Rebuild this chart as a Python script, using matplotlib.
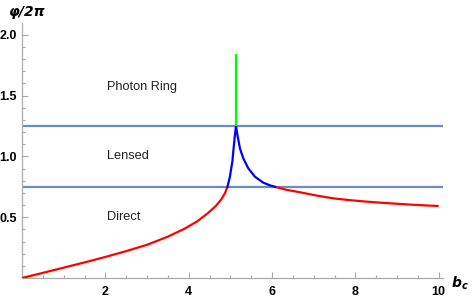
import matplotlib
matplotlib.use("Agg")
import matplotlib.pyplot as plt
from matplotlib.ticker import MultipleLocator, FixedLocator

# ---- data ----
direct_b = [0.0, 0.5, 1.0, 1.5, 2.0, 2.5, 3.0, 3.5, 3.9, 4.2, 4.45, 4.65, 4.78, 4.87, 4.93]
direct_n = [0.0, 0.042, 0.085, 0.128, 0.173, 0.221, 0.273, 0.340, 0.405, 0.465, 0.530, 0.592, 0.645, 0.697, 0.75]

lensed_b = [4.93, 4.99, 5.02, 5.05, 5.07, 5.11, 5.125, 5.135, 5.15, 5.17, 5.23, 5.31, 5.43, 5.59, 5.79, 5.95, 6.07]
lensed_n = [0.75, 0.833, 0.90, 0.96, 1.04, 1.176, 1.22, 1.25, 1.22, 1.176, 1.066, 0.984, 0.902, 0.833, 0.784, 0.762, 0.75]

far_b = [6.07, 6.35, 6.67, 7.07, 7.47, 7.87, 8.27, 8.67, 9.07, 9.5, 10.0]
far_n = [0.75, 0.725, 0.705, 0.678, 0.655, 0.640, 0.628, 0.618, 0.609, 0.600, 0.592]

ring_b = [5.135, 5.135]
ring_n = [1.25, 1.84]

boundaries = [0.75, 1.25]
region_labels = ["Direct", "Lensed", "Photon Ring"]
region_label_pos = [(2.45, 0.5), (2.55, 1.0), (2.87, 1.57)]

x_major = [2, 4, 6, 8, 10]
y_major = [0.5, 1.0, 1.5, 2.0]

W, H = 473, 297
fig = plt.figure(figsize=(W / 100, H / 100), dpi=100)
x0, x1 = 22, 443
y0, y1 = 278, 22.7
ax = fig.add_axes([x0 / W, 1 - y0 / H, (x1 - x0) / W, (y0 - y1) / H])
ax.set_xlim(0, (x1 - x0) / 41.67)
ax.set_ylim(0, (y0 - y1) / 121.6)

for yb in boundaries:
    ax.axhline(yb, color="#6C8EBF", lw=1.6, zorder=2)

ax.plot(direct_b, direct_n, color="#FF0000", lw=1.6, zorder=3, solid_capstyle="butt")
ax.plot(far_b, far_n, color="#FF0000", lw=1.6, zorder=3, solid_capstyle="butt")
ax.plot(lensed_b, lensed_n, color="#0000FF", lw=1.6, zorder=4, solid_joinstyle="round")
ax.plot(ring_b, ring_n, color="#00FF00", lw=1.6, zorder=4, solid_capstyle="butt")

for txt, (bx, by) in zip(region_labels, region_label_pos):
    ax.text(bx, by, txt, ha="center", va="center", fontsize=9.2,
            family="Liberation Sans", color="#222222")

for s in ["top", "right"]:
    ax.spines[s].set_visible(False)
for s in ["left", "bottom"]:
    ax.spines[s].set_color("#AAAAAA")
    ax.spines[s].set_linewidth(0.9)

ax.xaxis.set_major_locator(FixedLocator(x_major))
ax.yaxis.set_major_locator(FixedLocator(y_major))
ax.xaxis.set_minor_locator(MultipleLocator(0.5))
ax.yaxis.set_minor_locator(MultipleLocator(0.1))
ax.tick_params(which="both", direction="in", color="#AAAAAA", width=0.8)
ax.tick_params(which="major", length=4.5)
ax.tick_params(which="minor", length=2.5)
ax.tick_params(axis="x", which="major", pad=6)
ax.tick_params(axis="y", which="major", pad=3.5)
ax.set_xticklabels([str(v) for v in x_major], fontweight="bold", fontsize=9,
                   family="Liberation Sans")
ax.set_yticklabels([f"{v:.1f}" for v in y_major], fontweight="bold", fontsize=9,
                   family="Liberation Sans")

fig.text(27 / W, 1 - 12 / H, "φ/2π", ha="center", va="center", fontsize=10,
         fontweight="bold", style="italic", family="DejaVu Sans")
fig.text(460 / W, 1 - 283 / H, r"$\mathbfit{b}_{\mathbfit{c}}$", ha="center", va="center",
         fontsize=10)

fig.savefig("out.png", dpi=100)
